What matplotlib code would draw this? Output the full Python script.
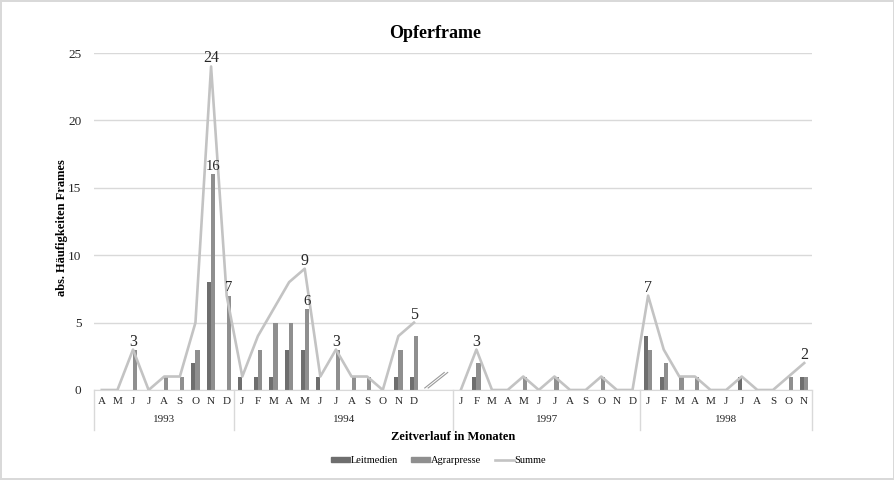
import numpy as np
import matplotlib.pyplot as plt
from matplotlib.lines import Line2D
from matplotlib.patches import Patch
import matplotlib.transforms as mtransforms

plt.rcParams['font.family'] = ['Liberation Serif', 'DejaVu Serif']

nan = np.nan

# Monate pro Kategorie (zwei leere Kategorien = Lücke 1995/1996)
months = ['A', 'M', 'J', 'J', 'A', 'S', 'O', 'N', 'D',
          'J', 'F', 'M', 'A', 'M', 'J', 'J', 'A', 'S', 'O', 'N', 'D', '', '',
          'J', 'F', 'M', 'A', 'M', 'J', 'J', 'A', 'S', 'O', 'N', 'D',
          'J', 'F', 'M', 'A', 'M', 'J', 'J', 'A', 'S', 'O', 'N']
years = ['1993', '1994', '1997', '1998']
year_lengths = [9, 14, 12, 11]

leitmedien = [0, 0, 0, 0, 0, 0, 2, 8, 0,
              1, 1, 1, 3, 3, 1, 0, 0, 0, 0, 1, 1, nan, nan,
              0, 1, 0, 0, 0, 0, 0, 0, 0, 0, 0, 0,
              4, 1, 0, 0, 0, 0, 1, 0, 0, 0, 1]
agrarpresse = [0, 0, 3, 0, 1, 1, 3, 16, 7,
               0, 3, 5, 5, 6, 0, 3, 1, 1, 0, 3, 4, nan, nan,
               0, 2, 0, 0, 1, 0, 1, 0, 0, 1, 0, 0,
               3, 2, 1, 1, 0, 0, 0, 0, 0, 1, 1]
summe = [0, 0, 3, 0, 1, 1, 5, 24, 7,
         1, 4, 6, 8, 9, 1, 3, 1, 1, 0, 4, 5, nan, nan,
         0, 3, 0, 0, 1, 0, 1, 0, 0, 1, 0, 0,
         7, 3, 1, 1, 0, 0, 1, 0, 0, 1, 2]

# welche Punkte beschriftet sind
summe_labels = [2, 7, 13, 15, 20, 24, 35, 45]
agrar_labels = [7, 8, 13]

c_leit = '#6e6e6e'
c_agrar = '#8f8f8f'
c_sum = '#c3c3c3'
c_grid = '#d9d9d9'

x = np.arange(len(months))
w = 0.27

fig = plt.figure(figsize=(8.95, 4.8), dpi=100)
fig.patch.set_edgecolor(c_grid)
fig.patch.set_linewidth(1.5)
ax = fig.add_axes([94 / 895, 1 - 390 / 480, (812 - 94) / 895, (390 - 53) / 480])

ax.bar(x - w / 2, leitmedien, width=w, color=c_leit, zorder=2)
ax.bar(x + w / 2, agrarpresse, width=w, color=c_agrar, zorder=2)
ax.plot(x, summe, color=c_sum, lw=1.9, zorder=3)

# Datenbeschriftungen
for i in summe_labels:
    ax.annotate(str(int(summe[i])), (x[i], summe[i]), xytext=(0, 0),
                textcoords='offset points', ha='center', va='bottom',
                fontsize=11.5, color='#262626', zorder=4)
for i in agrar_labels:
    ax.annotate(str(int(agrarpresse[i])), (x[i] + w / 2, agrarpresse[i]), xytext=(0, 1),
                textcoords='offset points', ha='center', va='bottom',
                fontsize=10.5, color='#262626', zorder=4)

ax.set_xlim(-0.5, len(months) - 0.5)
ax.set_ylim(0, 25)
ax.set_yticks(range(0, 26, 5))
ax.yaxis.grid(True, color=c_grid, lw=1)
ax.set_axisbelow(True)
for s in ['top', 'right', 'left']:
    ax.spines[s].set_visible(False)
ax.spines['bottom'].set_color(c_grid)
ax.tick_params(axis='y', length=0, pad=9, labelsize=9.5, labelcolor='#262626')
ax.set_xticks(x)
ax.set_xticklabels(months)
ax.tick_params(axis='x', length=0, pad=5, labelsize=8, labelcolor='#262626')

# Jahresgruppen unter der Achse
trans = mtransforms.blended_transform_factory(ax.transData, ax.transAxes)
edges = np.concatenate([[0], np.cumsum(year_lengths)]) - 0.5
for e in edges:
    ax.add_line(Line2D([e, e], [0, -0.118], transform=trans, color=c_grid,
                       lw=1, clip_on=False))
for k, yr in enumerate(years):
    ax.text((edges[k] + edges[k + 1]) / 2, -0.087, yr, transform=trans,
            ha='center', va='center', fontsize=8, color='#262626')

# Achsenbruch-Zeichen in der Lücke
gap = [i for i, m in enumerate(months) if m == '']
for dx in (-0.11, 0.11):
    ax.plot([gap[0] - 0.2 + dx, gap[-1] + 0.05 + dx], [0.15, 1.3],
            color='#9a9a9a', lw=0.8, clip_on=False, zorder=3)

fig.text(0.486, 0.931, 'Opferframe', ha='center', va='center',
         fontsize=13, weight='bold')
fig.text(0.069, 0.525, 'abs. Häufigkeiten Frames', rotation=90,
         ha='center', va='center', fontsize=9, weight='bold')
fig.text(0.506, 0.09, 'Zeitverlauf in Monaten', ha='center', va='center',
         fontsize=9, weight='bold')

handles = [Patch(color=c_leit), Patch(color=c_agrar), Line2D([], [], color=c_sum, lw=1.9)]
fig.legend(handles, ['Leitmedien', 'Agrarpresse', 'Summe'], loc='center',
           bbox_to_anchor=(0.49, 0.04), ncol=3, frameon=False, fontsize=7.5,
           handlelength=1.8, handleheight=0.45, handletextpad=0.1, columnspacing=1.3)

fig.savefig('out.png', dpi=100)
